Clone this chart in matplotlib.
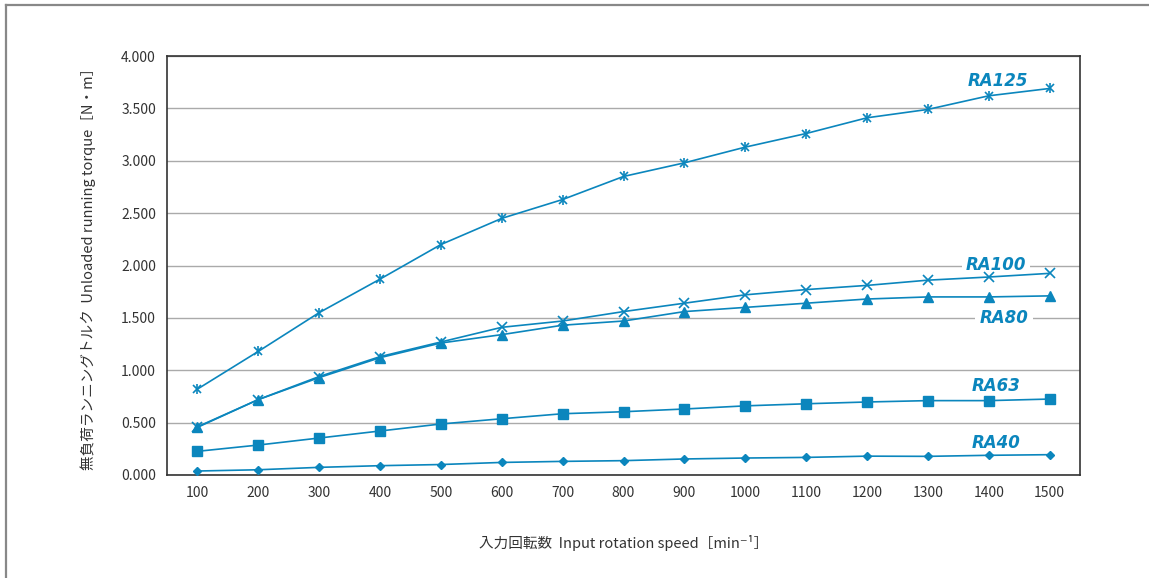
import matplotlib
matplotlib.use("Agg")
from matplotlib import pyplot as plt
from matplotlib.lines import Line2D

plt.rcParams['font.family'] = ['Noto Sans CJK JP', 'DejaVu Sans']

speeds = ['100', '200', '300', '400', '500', '600', '700', '800',
          '900', '1000', '1100', '1200', '1300', '1400', '1500']

ra125 = [0.82, 1.18, 1.55, 1.87, 2.20, 2.45, 2.63, 2.85, 2.98, 3.13, 3.26, 3.41, 3.49, 3.62, 3.69]
ra100 = [0.46, 0.72, 0.94, 1.13, 1.27, 1.41, 1.47, 1.56, 1.64, 1.72, 1.77, 1.81, 1.86, 1.89, 1.925]
ra80 = [0.455, 0.72, 0.93, 1.12, 1.26, 1.34, 1.43, 1.47, 1.56, 1.60, 1.64, 1.68, 1.70, 1.70, 1.71]
ra63 = [0.226, 0.286, 0.353, 0.42, 0.487, 0.537, 0.585, 0.604, 0.63, 0.66, 0.68, 0.697, 0.71, 0.71, 0.725]
ra40 = [0.038, 0.05, 0.073, 0.089, 0.10, 0.12, 0.13, 0.137, 0.153, 0.162, 0.168, 0.18, 0.178, 0.188, 0.194]

series_names = ['RA125', 'RA100', 'RA80', 'RA63', 'RA40']
label_y = [3.76, 2.00, 1.50, 0.85, 0.31]
label_x = [14.15, 14.12, 14.25, 14.12, 14.12]

blue = '#0b86bd'

fig = plt.figure(figsize=(11.49, 5.78), dpi=100)
ax = fig.add_axes([167 / 1149, 1 - 475 / 578, 913 / 1149, 419 / 578])

x = list(range(1, len(speeds) + 1))
lw = 1.2

# RA125: asterisk = x + vertical bar
ax.plot(x, ra125, color=blue, lw=lw, marker='x', ms=6, mew=1.2, zorder=3)
ax.plot(x, ra125, color=blue, lw=0, marker='|', ms=7, mew=1.2, zorder=3)
ax.plot(x, ra100, color=blue, lw=lw, marker='x', ms=6.5, mew=1.2, zorder=3)
ax.plot(x, ra80, color=blue, lw=lw, marker='^', ms=6.5, zorder=3)
ax.plot(x, ra63, color=blue, lw=lw, marker='s', ms=6.5, zorder=3)
ax.plot(x, ra40, color=blue, lw=lw, marker='D', ms=4.5, zorder=3)

for name, xv, yv in zip(series_names, label_x, label_y):
    ax.text(xv, yv, name, color=blue, fontsize=12, fontweight='heavy',
            fontstyle='italic', family=['DejaVu Sans'], ha='center', va='center',
            zorder=2.5, bbox=dict(facecolor='white', edgecolor='none', pad=3))

ax.set_xlim(0.5, 15.5)
ax.set_ylim(0, 4.0)
ax.set_xticks(x)
ax.set_xticklabels(speeds)
ax.set_yticks([i * 0.5 for i in range(9)])
ax.set_yticklabels(['%.3f' % (i * 0.5) for i in range(9)])
ax.tick_params(length=0, labelsize=10, colors='#333333', pad=8)
ax.yaxis.grid(True, color='#aaaaaa', lw=1.0)
ax.set_axisbelow(True)
for sp in ax.spines.values():
    sp.set_color('#333333')
    sp.set_linewidth(1.2)

ax.set_ylabel('無負荷ランニングトルク  Unloaded running torque［N・m］',
              fontsize=10.5, color='#333333', labelpad=18)
ax.set_xlabel('入力回転数  Input rotation speed［min⁻¹］',
              fontsize=10.5, color='#333333', labelpad=25)

# outer frame (top and left only)
fig.add_artist(Line2D([6 / 1149, 1], [1 - 5 / 578, 1 - 5 / 578], color='#888888', lw=1.6,
                      transform=fig.transFigure))
fig.add_artist(Line2D([6 / 1149, 6 / 1149], [0, 1 - 5 / 578], color='#888888', lw=1.6,
                      transform=fig.transFigure))

fig.savefig('out.png', dpi=100)
